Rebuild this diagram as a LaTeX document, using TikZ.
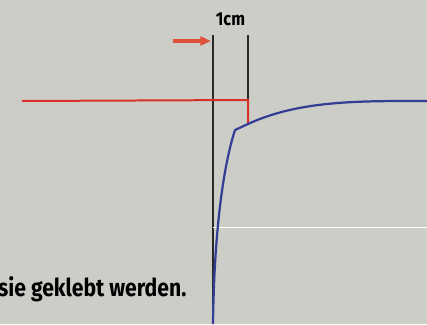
\documentclass[tikz,border=0pt]{standalone}
\usepackage{fontspec}
\setmainfont{Fira Sans}
\usepackage{tikz}
\usepackage{xcolor}
\usetikzlibrary{positioning,arrows.meta}
\definecolor{bggray}{RGB}{205, 205, 200}
\definecolor{rulered}{RGB}{214, 48, 40}
\definecolor{arrowred}{RGB}{222, 82, 58}
\definecolor{curveblue}{RGB}{52, 62, 150}
\definecolor{markblack}{RGB}{40, 40, 40}

\begin{document}
\begin{tikzpicture}[x=0.03cm, y=-0.03cm, every node/.style={inner sep=0pt, font=\bfseries}]
        \fill[bggray] (0,0) rectangle (427,324);
        \useasboundingbox (0,0) rectangle (427,324);
        % marks
        \coordinate (m1top) at (213,35);
        \coordinate (m1bot) at (213,324);
        \coordinate (m2top) at (248,35);
        \coordinate (m2bot) at (248,124);
        \node[font=\bfseries\fontsize{16}{16}\selectfont, xscale=0.87] (cm) at (230.5,19.5) {1cm};
        \draw[markblack, line width=1.3pt] (m1top) -- (m1bot);
        \draw[markblack, line width=1.3pt] (m2top) -- (m2bot);
        % arrow
        \coordinate (arrtail) at (173,41);
        \coordinate (arrtip) at (211,41);
        \draw[arrowred, line width=3.4pt, -{Triangle[length=9pt, width=7.5pt]}] (arrtail) -- (arrtip);
        % red edge
        \coordinate (edgeleft) at (22,101);
        \coordinate (edgecorner) at (248,100);
        \draw[rulered, line width=1.7pt] (edgeleft) -- (edgecorner) -- (m2bot);
        % white line
        \coordinate (wleft) at (213,227);
        \coordinate (wright) at (427,227);
        \draw[white, line width=0.6pt] (wleft) -- (wright);
        % curve
        \coordinate (kink) at (235,130);
        \coordinate (cend) at (427,101);
        \draw[curveblue, line width=1.9pt, line join=round]
          (m1bot) .. controls (214,240) and (222,170) .. (kink)
          -- (m2bot) .. controls (300,100) and (360,101) .. (cend);
        % text
        \node[font=\bfseries\fontsize{21}{21}\selectfont, xscale=0.86, anchor=base west] (txt) at (-2,296) {sie geklebt werden.};
      \end{tikzpicture}
\end{document}
